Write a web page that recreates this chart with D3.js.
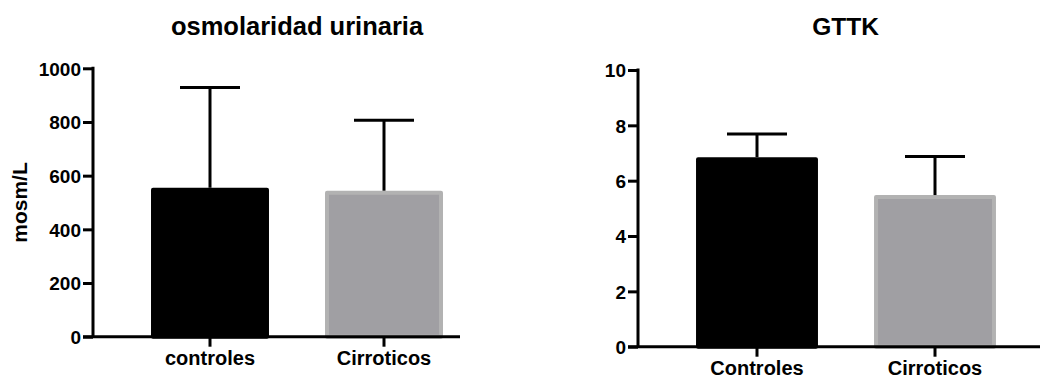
<!DOCTYPE html>
<html>
<head>
<meta charset="utf-8">
<script src="https://cdn.jsdelivr.net/npm/d3@7/dist/d3.min.js"></script>
<style>
  html, body { margin: 0; padding: 0; background: #fff; }
  svg text { font-family: "Liberation Sans", Arial, Helvetica, sans-serif; font-weight: bold; fill: #000; }
</style>
</head>
<body>
<svg id="chart" width="1040" height="378"></svg>
<script>
// Panel 1: urinary osmolality (mean + SD)
const osmCategories = ["controles", "Cirroticos"];
const osmMeans = [555, 544];
const osmErrors = [373, 262];
const osmTicks = [0, 200, 400, 600, 800, 1000];

// Panel 2: GTTK (mean + SD)
const gttkCategories = ["Controles", "Cirroticos"];
const gttkMeans = [6.85, 5.48];
const gttkErrors = [0.84, 1.39];
const gttkTicks = [0, 2, 4, 6, 8, 10];

const barStyles = [
  { fill: "#000000", stroke: "#000000" },
  { fill: "#a09fa3", stroke: "#b2b2b2" }
];

const svg = d3.select("#chart");

function drawPanel(opts) {
  const g = svg.append("g");
  const y = d3.scaleLinear().domain(opts.domain).range([opts.y0, opts.y1]);
  const x = d3.scaleBand()
    .domain(opts.categories)
    .range([opts.bandStart, opts.bandEnd])
    .paddingInner(opts.pad)
    .paddingOuter(opts.pad / 2);

  // bars
  g.selectAll("rect.bar")
    .data(opts.categories)
    .join("rect")
    .attr("class", "bar")
    .attr("x", (d) => x(d) + 2)
    .attr("width", x.bandwidth() - 4)
    .attr("y", (d, i) => y(opts.means[i]) + 2)
    .attr("height", (d, i) => y(0) - y(opts.means[i]) - 2)
    .attr("fill", (d, i) => barStyles[i].fill)
    .attr("stroke", (d, i) => barStyles[i].stroke)
    .attr("stroke-width", 4)
    .attr("stroke-linejoin", "round");

  // upper error bars
  const cap = 30;
  const err = g.selectAll("g.err")
    .data(opts.categories)
    .join("g")
    .attr("class", "err");
  err.append("line")
    .attr("x1", (d) => x(d) + x.bandwidth() / 2)
    .attr("x2", (d) => x(d) + x.bandwidth() / 2)
    .attr("y1", (d, i) => y(opts.means[i]))
    .attr("y2", (d, i) => y(opts.means[i] + opts.errors[i]))
    .attr("stroke", "#000").attr("stroke-width", 3);
  err.append("line")
    .attr("x1", (d) => x(d) + x.bandwidth() / 2 - cap)
    .attr("x2", (d) => x(d) + x.bandwidth() / 2 + cap)
    .attr("y1", (d, i) => y(opts.means[i] + opts.errors[i]))
    .attr("y2", (d, i) => y(opts.means[i] + opts.errors[i]))
    .attr("stroke", "#000").attr("stroke-width", 3);

  // y axis
  const yAxis = g.append("g")
    .attr("transform", `translate(${opts.axisX},0)`)
    .call(d3.axisLeft(y).tickValues(opts.ticks).tickSize(10).tickPadding(2).tickFormat(d3.format("d")));
  yAxis.select(".domain").remove();
  yAxis.selectAll(".tick line").attr("stroke", "#000").attr("stroke-width", 3);
  yAxis.selectAll(".tick text").attr("font-size", 19).attr("dy", "0.36em")
    .style("font-family", "'Liberation Sans', Arial, sans-serif").style("font-weight", "bold");
  g.append("line")
    .attr("x1", opts.axisX).attr("x2", opts.axisX)
    .attr("y1", y(opts.domain[1]) - 1.5).attr("y2", y(0))
    .attr("stroke", "#000").attr("stroke-width", 3);

  // x axis
  g.append("line")
    .attr("x1", opts.axisX - 10).attr("x2", opts.axisEnd)
    .attr("y1", y(0)).attr("y2", y(0))
    .attr("stroke", "#000").attr("stroke-width", 3);
  const xAxis = g.append("g")
    .attr("transform", `translate(0,${y(0)})`)
    .call(d3.axisBottom(x).tickSize(10).tickPadding(opts.labelPad));
  xAxis.select(".domain").remove();
  xAxis.selectAll(".tick line").attr("stroke", "#000").attr("stroke-width", 3);
  xAxis.selectAll(".tick text").attr("font-size", 20)
    .style("font-family", "'Liberation Sans', Arial, sans-serif").style("font-weight", "bold");

  // title
  g.append("text")
    .attr("x", opts.titleX).attr("y", 35)
    .attr("text-anchor", "middle")
    .attr("font-size", opts.titleSize)
    .text(opts.title);

  if (opts.yLabel) {
    g.append("text")
      .attr("transform", `translate(27,${(opts.y0 + opts.y1) / 2}) rotate(-90)`)
      .attr("text-anchor", "middle")
      .attr("font-size", 21)
      .text(opts.yLabel);
  }
}

drawPanel({
  categories: osmCategories, means: osmMeans, errors: osmErrors, ticks: osmTicks,
  domain: [0, 1000], y0: 336.7, y1: 68.3,
  bandStart: 123, bandEnd: 471, pad: 0.322,
  axisX: 93, axisEnd: 460, labelPad: 4,
  title: "osmolaridad urinaria", titleX: 297, titleSize: 25.5, yLabel: "mosm/L"
});

drawPanel({
  categories: gttkCategories, means: gttkMeans, errors: gttkErrors, ticks: gttkTicks,
  domain: [0, 10], y0: 346.7, y1: 70,
  bandStart: 668, bandEnd: 1024, pad: 0.315,
  axisX: 638, axisEnd: 1040, labelPad: 4,
  title: "GTTK", titleX: 845.5, titleSize: 24.5, yLabel: null
});
</script>
</body>
</html>
